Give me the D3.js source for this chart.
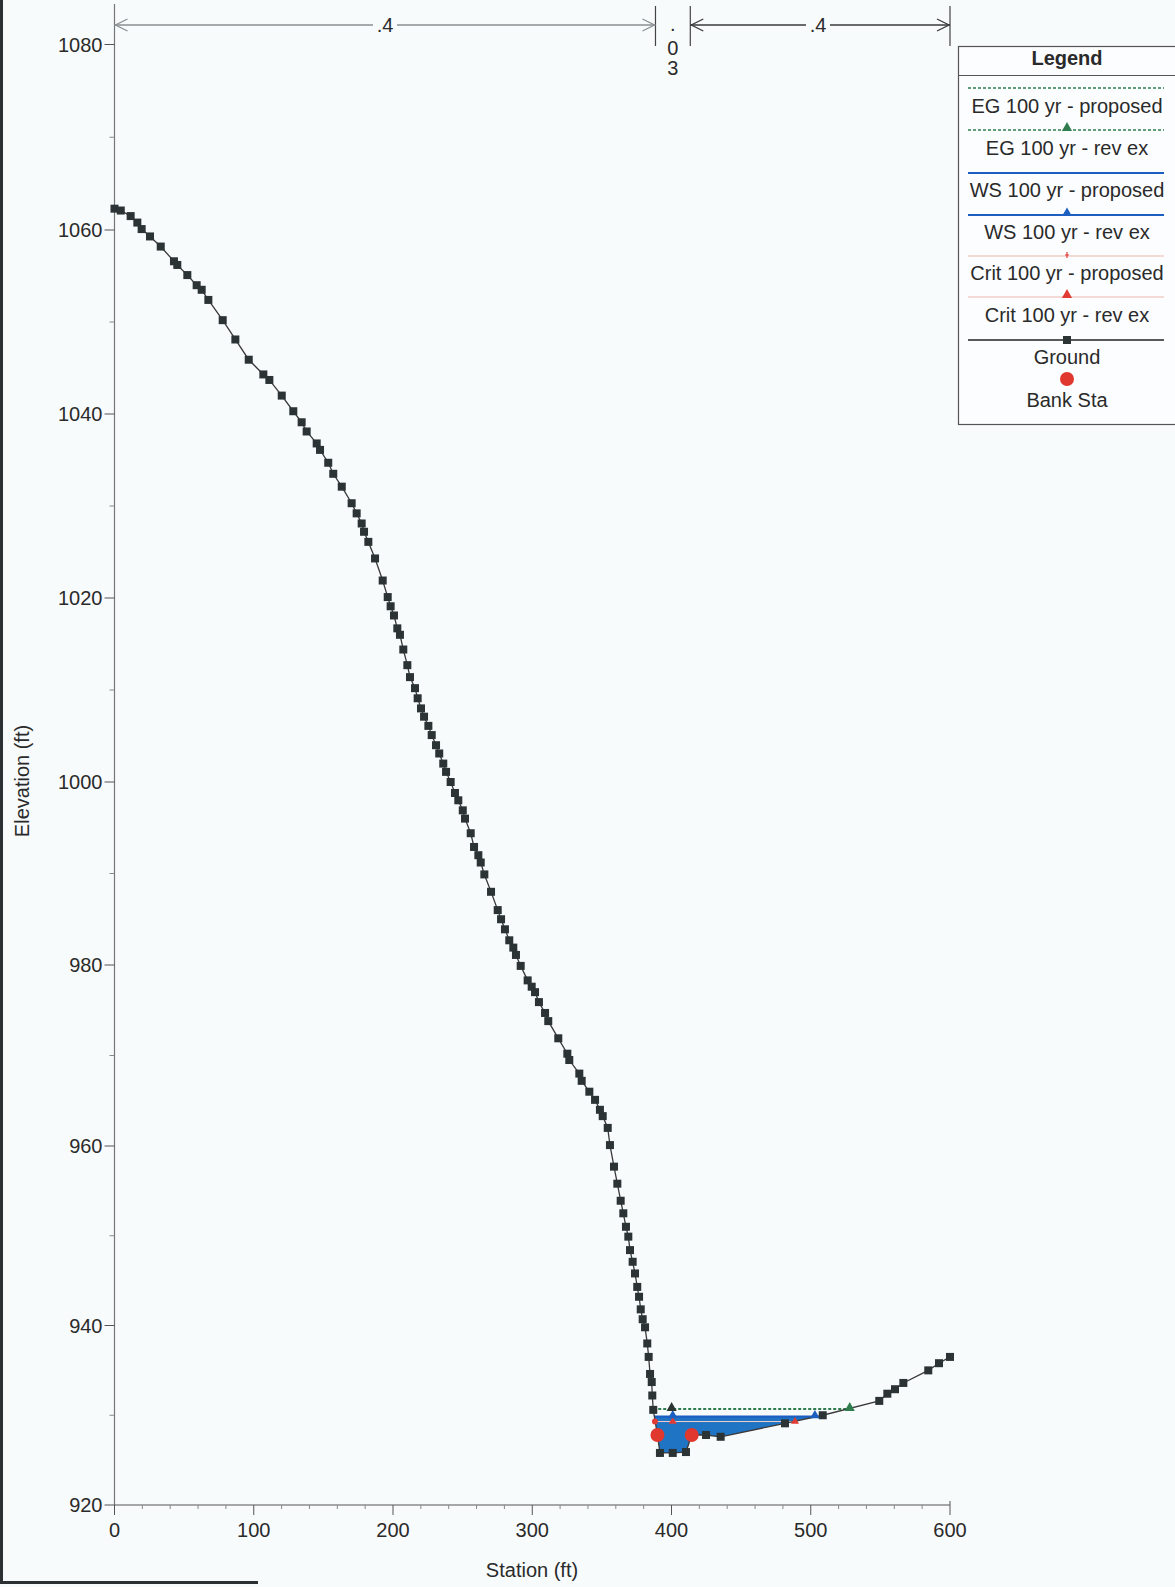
<!DOCTYPE html>
<html>
<head>
<meta charset="utf-8">
<script src="https://cdn.jsdelivr.net/npm/d3@7"></script>
<style>
  html, body { margin: 0; padding: 0; background: #f8fbfc; }
  svg { display: block; }
  text { font-family: "Liberation Sans", Arial, sans-serif; fill: #2a2a2a; }
</style>
</head>
<body>
<svg id="chart" width="1175" height="1587"></svg>
<script>
// ---------------- DATA ----------------
const groundStation = [0, 4.5, 11.6, 16.4, 19.5, 25.5, 33.2, 42.7, 45.1, 52.3, 59.0, 62.6, 67.4, 77.7, 86.8, 96.4, 106.9, 111.2, 120.1, 128.4,
  134.4, 138.0, 145.2, 147.6, 153.5, 157.1, 163.2, 170.3, 173.9, 177.5, 179.2, 182.3, 187.1, 192.6, 196.2, 198.3, 200.7, 203.1, 205.0, 207.4,
  210.3, 212.2, 215.8, 217.7, 220.1, 222.3, 225.4, 227.8, 230.9, 233.2, 236.1, 238.1, 241.4, 244.5, 246.9, 250.1, 251.7, 255.8, 258.2, 261.3,
  263.0, 265.6, 270.4, 275.2, 277.6, 280.4, 283.5, 286.4, 288.3, 291.7, 296.7, 299.6, 302.0, 304.8, 309.2, 311.5, 318.7, 325.2, 326.6, 333.8,
  335.5, 341.0, 345.1, 348.6, 350.6, 354.2, 355.8, 358.7, 361.1, 363.5, 365.4, 367.3, 369.0, 370.2, 372.1, 373.8, 375.4, 376.7, 377.9, 379.3,
  381.0, 382.6, 383.6, 384.6, 385.8, 386.2, 386.9, 389.9, 391.7, 400.9, 410.4, 414.5, 424.8, 435.3, 481.5, 508.6, 549.2, 555.0, 560.5, 566.5,
  584.4, 592.1, 600.0];
const groundElev = [1062.3, 1062.1, 1061.5, 1060.8, 1060.1, 1059.3, 1058.2, 1056.6, 1056.2, 1055.1, 1054.0, 1053.5, 1052.4, 1050.2, 1048.1, 1045.9, 1044.3, 1043.7, 1042.0, 1040.3,
  1039.1, 1038.1, 1036.8, 1036.1, 1034.7, 1033.5, 1032.1, 1030.3, 1029.2, 1028.1, 1027.2, 1026.1, 1024.3, 1021.9, 1020.1, 1019.1, 1018.1, 1016.7, 1016.0, 1014.4,
  1012.7, 1011.4, 1010.2, 1009.1, 1008.0, 1007.1, 1006.1, 1005.1, 1004.0, 1003.1, 1002.0, 1001.1, 1000.0, 998.8, 998.0, 996.9, 996.0, 994.4, 992.9, 992.0,
  991.2, 989.9, 988.0, 986.0, 985.0, 983.9, 982.7, 981.9, 981.1, 979.9, 978.3, 977.6, 977.0, 975.9, 974.7, 973.8, 971.9, 970.2, 969.5, 968.0,
  967.2, 966.0, 965.1, 964.0, 963.3, 962.0, 960.1, 957.7, 955.8, 953.9, 952.5, 951.0, 949.9, 948.4, 947.1, 945.8, 944.3, 943.2, 941.8, 940.7,
  939.8, 938.0, 936.5, 934.6, 933.7, 932.2, 930.6, 927.8, 925.8, 925.8, 925.9, 927.8, 927.8, 927.6, 929.1, 930.0, 931.6, 932.4, 932.9, 933.6,
  935.0, 935.8, 936.5];

const wsElev = 929.85;     // WS 100 yr
const egElev = 930.7;      // EG 100 yr
const critElev = 929.3;    // Crit 100 yr
const egRevMarkers = [400.1, 528.0];
const wsRevMarkers = [400.9, 503.0];
const critRevMarkers = [400.9, 488.7];
const critPropMarkers = [388.1];
const bankStation = [389.9, 414.5];
const bankElev = [927.8, 927.8];

const nBreaks = [0, 388.5, 413.5, 600];
const nValues = [".4", ".03", ".4"];

const xTicks = [0, 100, 200, 300, 400, 500, 600];
const yTicks = [920, 940, 960, 980, 1000, 1020, 1040, 1060, 1080];

const legendLabels = ["EG 100 yr - proposed", "EG 100 yr - rev ex", "WS 100 yr - proposed", "WS 100 yr - rev ex",
  "Crit 100 yr - proposed", "Crit 100 yr - rev ex", "Ground", "Bank Sta"];

// ---------------- STYLE ----------------
const C = {
  eg: "#2f7d4e", ws: "#1d5fc0", fill: "#1f74c4", crit: "#e23b35", critLine: "#f2cdca",
  ground: "#2b3335", groundLine: "#3a3a3a", bank: "#e0382e", axis: "#555"
};

const svg = d3.select("#chart");
const x = d3.scaleLinear().domain([0, 600]).range([114.5, 950]);
// piecewise-linear elevation scale matching the (slightly uneven) scanned axis
const y = d3.scaleLinear().domain(yTicks).range([1505, 1325.5, 1146, 965, 782, 598, 414, 230, 44.5]);

const ground = groundStation.map((s, i) => ({ s, e: groundElev[i] }));

// scan-border artifacts
svg.append("rect").attr("x", 0).attr("y", 0).attr("width", 3).attr("height", 1582).attr("fill", "#2b3033");
svg.append("rect").attr("x", 0).attr("y", 1581).attr("width", 258).attr("height", 3).attr("fill", "#2b3033");

// ---------- helper: intersections of a level with ground around channel ----------
function levelRange(level) {
  let iMin = d3.minIndex(ground, d => d.e);
  let l = iMin, r = iMin;
  while (l > 0 && ground[l - 1].e < level) l--;
  while (r < ground.length - 1 && ground[r + 1].e < level) r++;
  const a = ground[l - 1], b = ground[l];
  const sl = a.s + (level - a.e) / (b.e - a.e) * (b.s - a.s);
  const c = ground[r], d = ground[r + 1];
  const sr = c.s + (level - c.e) / (d.e - c.e) * (d.s - c.s);
  return { l, r, sl, sr };
}

// ---------- water fill ----------
const wr = levelRange(wsElev);
const poly = [[wr.sl, wsElev]].concat(ground.slice(wr.l, wr.r + 1).map(d => [d.s, d.e])).concat([[wr.sr, wsElev]]);
svg.append("path")
  .attr("d", d3.line().x(d => x(d[0])).y(d => y(d[1]))(poly) + "Z")
  .attr("fill", C.fill);

// crit line (faint)
const cr = levelRange(critElev);
svg.append("line").attr("x1", x(cr.sl)).attr("x2", x(cr.sr)).attr("y1", y(critElev)).attr("y2", y(critElev))
  .attr("stroke", C.critLine).attr("stroke-width", 1);

// WS line
svg.append("line").attr("x1", x(wr.sl)).attr("x2", x(wr.sr)).attr("y1", y(wsElev)).attr("y2", y(wsElev))
  .attr("stroke", C.ws).attr("stroke-width", 2.2);

// EG line
const er = levelRange(egElev);
svg.append("line").attr("x1", x(er.sl)).attr("x2", x(er.sr)).attr("y1", y(egElev)).attr("y2", y(egElev))
  .attr("stroke", C.eg).attr("stroke-width", 2).attr("stroke-dasharray", "3,2");

// ---------- axes ----------
const yAxis = svg.append("g");
yAxis.append("line").attr("x1", x(0)).attr("x2", x(0)).attr("y1", 4).attr("y2", y(920))
  .attr("stroke", "#777").attr("stroke-width", 1.2);
yTicks.forEach(t => {
  yAxis.append("line").attr("x1", x(0) - 10).attr("x2", x(0)).attr("y1", y(t)).attr("y2", y(t)).attr("stroke", C.axis);
  yAxis.append("text").attr("x", x(0) - 12).attr("y", y(t)).attr("dy", "0.35em").attr("text-anchor", "end")
    .attr("font-size", 20).text(t);
});
d3.range(930, 1080, 20).forEach(t => {
  yAxis.append("line").attr("x1", x(0) - 5).attr("x2", x(0)).attr("y1", y(t)).attr("y2", y(t)).attr("stroke", "#888");
});

const xAxis = svg.append("g");
xAxis.append("line").attr("x1", x(0)).attr("x2", x(600)).attr("y1", y(920)).attr("y2", y(920))
  .attr("stroke", C.axis).attr("stroke-width", 1.2);
xTicks.forEach(t => {
  xAxis.append("line").attr("x1", x(t)).attr("x2", x(t)).attr("y1", y(920)).attr("y2", y(920) + 10).attr("stroke", C.axis);
  xAxis.append("text").attr("x", x(t)).attr("y", 1530).attr("dy", "0.35em").attr("text-anchor", "middle")
    .attr("font-size", 20).text(t);
});
d3.range(20, 600, 20).filter(t => t % 100 !== 0).forEach(t => {
  xAxis.append("line").attr("x1", x(t)).attr("x2", x(t)).attr("y1", y(920)).attr("y2", y(920) + 4).attr("stroke", "#888");
});
xAxis.append("line").attr("x1", x(600)).attr("x2", x(600)).attr("y1", y(920) - 4).attr("y2", y(920)).attr("stroke", C.axis);

svg.append("text").attr("x", 532).attr("y", 1570).attr("dy", "0.35em").attr("text-anchor", "middle")
  .attr("font-size", 20).text("Station (ft)");
svg.append("text").attr("transform", "translate(22,781) rotate(-90)").attr("dy", "0.35em").attr("text-anchor", "middle")
  .attr("font-size", 20).text("Elevation (ft)");

// ---------- ground ----------
svg.append("path").datum(ground)
  .attr("d", d3.line().x(d => x(d.s)).y(d => y(d.e)))
  .attr("fill", "none").attr("stroke", C.groundLine).attr("stroke-width", 1.3);
svg.append("g").selectAll("rect").data(ground).join("rect")
  .attr("x", d => x(d.s) - 4).attr("y", d => y(d.e) - 4).attr("width", 8).attr("height", 8)
  .attr("fill", C.ground);

// ---------- markers ----------
const tri = d3.symbol().type(d3.symbolTriangle);
svg.append("g").selectAll("path").data(critRevMarkers).join("path")
  .attr("d", tri.size(28)()).attr("transform", d => `translate(${x(d)},${y(critElev)})`).attr("fill", C.crit);
svg.append("g").selectAll("circle").data(critPropMarkers).join("circle")
  .attr("cx", d => x(d)).attr("cy", y(critElev)).attr("r", 3).attr("fill", C.crit);
svg.append("g").selectAll("path").data(wsRevMarkers).join("path")
  .attr("d", tri.size(40)()).attr("transform", d => `translate(${x(d)},${y(wsElev) - 1})`).attr("fill", C.ws);
svg.append("g").selectAll("path").data(egRevMarkers).join("path")
  .attr("d", tri.size(45)()).attr("transform", d => `translate(${x(d)},${y(egElev) - 1})`)
  .attr("fill", (d, i) => i === 0 ? "#2a3431" : C.eg);
svg.append("g").selectAll("circle").data(bankStation).join("circle")
  .attr("cx", d => x(d)).attr("cy", (d, i) => y(bankElev[i])).attr("r", 7).attr("fill", C.bank);

// ---------- n-value annotations ----------
const nG = svg.append("g");
const nY = 25;
nBreaks.forEach((b, i) => {
  if (i === 0) return;
  nG.append("line").attr("x1", x(b)).attr("x2", x(b)).attr("y1", 6).attr("y2", 46).attr("stroke", "#444").attr("stroke-width", 1.2);
});
function arrowHead(px, dir, color) {
  nG.append("path").attr("d", `M${px + dir * 12},${nY - 6} L${px},${nY} L${px + dir * 12},${nY + 6}`)
    .attr("fill", "none").attr("stroke", color).attr("stroke-width", 1.3);
}
[[0, "#8a8f92"], [2, "#3a3a3a"]].forEach(([i, col]) => {
  const x1 = x(nBreaks[i]), x2 = x(nBreaks[i + 1]), xm = i === 0 ? 385 : 818;
  nG.append("line").attr("x1", x1).attr("x2", xm - 12).attr("y1", nY).attr("y2", nY).attr("stroke", col).attr("stroke-width", 1.3);
  nG.append("line").attr("x1", xm + 12).attr("x2", x2).attr("y1", nY).attr("y2", nY).attr("stroke", col).attr("stroke-width", 1.3);
  arrowHead(x1 + 1, 1, col);
  arrowHead(x2 - 1, -1, col);
  nG.append("text").attr("x", xm).attr("y", nY).attr("dy", "0.35em").attr("text-anchor", "middle").attr("font-size", 20).text(nValues[i]);
});
const midX = (x(nBreaks[1]) + x(nBreaks[2])) / 2;
nValues[1].split("").forEach((ch, k) => {
  nG.append("text").attr("x", midX).attr("y", [31, 54.5, 75][k]).attr("text-anchor", "middle")
    .attr("font-size", 20).text(ch);
});

// ---------- legend ----------
const lg = svg.append("g");
lg.append("rect").attr("x", 958.5).attr("y", 46.5).attr("width", 218).attr("height", 378)
  .attr("fill", "#fbfdfe").attr("stroke", "#555").attr("stroke-width", 1.2);
lg.append("line").attr("x1", 958.5).attr("x2", 1175).attr("y1", 75.5).attr("y2", 75.5).attr("stroke", "#555").attr("stroke-width", 1.2);
lg.append("text").attr("x", 1067).attr("y", 58).attr("dy", "0.35em").attr("text-anchor", "middle")
  .attr("font-size", 20).attr("font-weight", "bold").text("Legend");
const lineY = [88, 130, 173, 215, 256, 297, 340, 383];
const textY = [106, 148, 190, 232, 273, 315, 357, 400];
const lx1 = 968, lx2 = 1164, lmx = 1067;
const lineStyles = [
  { c: C.eg, w: 1.6, dash: "3,2" }, { c: C.eg, w: 1.6, dash: "3,2" },
  { c: C.ws, w: 1.8 }, { c: C.ws, w: 1.8 },
  { c: C.critLine, w: 1.5 }, { c: C.critLine, w: 1.5 },
  { c: "#222", w: 1.5 }, null
];
legendLabels.forEach((lab, i) => {
  const st = lineStyles[i];
  if (st) {
    const ln = lg.append("line").attr("x1", lx1).attr("x2", lx2).attr("y1", lineY[i]).attr("y2", lineY[i])
      .attr("stroke", st.c).attr("stroke-width", st.w);
    if (st.dash) ln.attr("stroke-dasharray", st.dash);
  }
  lg.append("text").attr("x", lmx).attr("y", textY[i]).attr("dy", "0.35em").attr("text-anchor", "middle")
    .attr("font-size", 20).text(lab);
});
lg.append("path").attr("d", tri.size(45)()).attr("transform", `translate(${lmx},${lineY[1] - 2})`).attr("fill", C.eg);
lg.append("path").attr("d", tri.size(40)()).attr("transform", `translate(${lmx},${lineY[3] - 2})`).attr("fill", C.ws);
lg.append("path").attr("d", "M0,-4V2M-2,-1H2").attr("transform", `translate(${lmx},${lineY[4]})`).attr("stroke", C.crit).attr("stroke-width", 1.2);
lg.append("path").attr("d", tri.size(45)()).attr("transform", `translate(${lmx},${lineY[5] - 2})`).attr("fill", C.crit);
lg.append("rect").attr("x", lmx - 4).attr("y", lineY[6] - 4).attr("width", 8).attr("height", 8).attr("fill", C.ground);
lg.append("circle").attr("cx", lmx).attr("cy", lineY[7] - 4).attr("r", 7).attr("fill", C.bank);
</script>
</body>
</html>
